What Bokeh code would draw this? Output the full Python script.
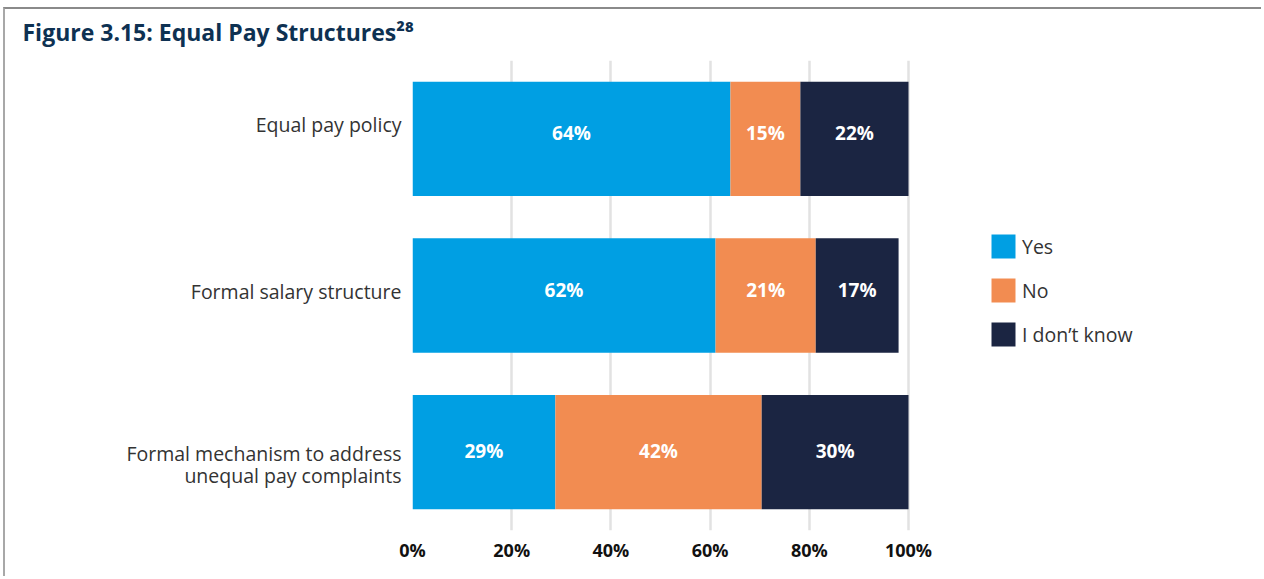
from bokeh.plotting import figure
from bokeh.models import (ColumnDataSource, Range1d, FixedTicker, Title,
                          Legend, LegendItem, PrintfTickFormatter)
from bokeh.embed import file_html
from bokeh.resources import INLINE
from bokeh.core.properties import value

# ---- data ----
categories = ["Equal pay policy", "Formal salary structure",
              "Formal mechanism to address\nunequal pay complaints"]
yes = [64.1, 61.1, 28.8]
no = [14.1, 20.2, 41.6]
dont_know = [21.8, 16.7, 29.6]
yes_labels = ["64%", "62%", "29%"]
no_labels = ["15%", "21%", "42%"]
dk_labels = ["22%", "17%", "30%"]
series = ["Yes", "No", "I don\u2019t know"]
colors = ["#009FE3", "#F28C51", "#1B2542"]
ticks = [0, 20, 40, 60, 80, 100]
title_text = "Figure 3.15: Equal Pay Structures\u00b2\u2078"

# ---- styling ----
FONT = "Open Sans"
W, H = 1258, 569
MB_LEFT, MB_TOP, MB_BOTTOM = 407, 51, 48
PX_PER_PCT = 4.96
frame_h = H - MB_TOP - MB_BOTTOM
n = len(categories)
unit_px = frame_h / n
label_shift_px = [14, 4, -12]   # category label nudges (px, up)
value_label_dy = [-6, -6, -1]   # value label nudges (px, down)

ypos = [n - 1 - i for i in range(n)]
tick_y = [yp + s / unit_px for yp, s in zip(ypos, label_shift_px)]

src = ColumnDataSource(dict(
    y=ypos, yes=yes, no=no, dk=dont_know,
    yes_mid=[a / 2 for a in yes],
    no_mid=[a + b / 2 for a, b in zip(yes, no)],
    dk_mid=[a + b + c / 2 for a, b, c in zip(yes, no, dont_know)],
    yes_lab=yes_labels, no_lab=no_labels, dk_lab=dk_labels,
    dy=value_label_dy,
))

frame_w = W - MB_LEFT
p = figure(width=W, height=H, output_backend="svg", toolbar_location=None,
           y_range=Range1d(-0.5, n - 0.5),
           x_range=Range1d(0, frame_w / PX_PER_PCT),
           min_border_left=MB_LEFT, min_border_right=0, min_border_top=MB_TOP,
           min_border_bottom=MB_BOTTOM)
p.styles = {"border-top": "2px solid #8a8a8a", "border-left": "2px solid #a8a8a8",
            "margin-top": "7px", "margin-left": "3px"}
p.outline_line_color = None
p.background_fill_color = "white"
p.border_fill_color = "white"

# spacer between title and frame
p.add_layout(Title(text=" ", text_font_size="1px", standoff=10), "above")
p.title = Title(text=title_text, align="left", offset=17 - MB_LEFT, standoff=0,
                text_font=FONT, text_font_style="bold", text_font_size="23px",
                text_color="#0E3152")

renderers = p.hbar_stack(["yes", "no", "dk"], y="y", height=0.73,
                         color=colors, line_color=None, source=src)

for xcol, lcol in [("yes_mid", "yes_lab"), ("no_mid", "no_lab"), ("dk_mid", "dk_lab")]:
    p.text(x=xcol, y="y", text=lcol, y_offset="dy", source=src, text_color="white",
           text_font=value(FONT), text_font_style="bold", text_font_size="19px",
           text_align="center", text_baseline="middle")

# axes
p.xaxis.ticker = FixedTicker(ticks=ticks)
p.xaxis.formatter = PrintfTickFormatter(format="%d%%")
p.xaxis.axis_line_color = None
p.xaxis.major_tick_line_color = None
p.xaxis.minor_tick_line_color = None
p.xaxis.major_label_text_font = FONT
p.xaxis.major_label_text_font_style = "bold"
p.xaxis.major_label_text_font_size = "18px"
p.xaxis.major_label_text_color = "#111111"
p.xaxis.major_label_standoff = 1

p.yaxis.ticker = FixedTicker(ticks=tick_y)
p.yaxis.major_label_overrides = {t: c for t, c in zip(tick_y, categories)}
p.yaxis.axis_line_color = None
p.yaxis.major_tick_line_color = None
p.yaxis.minor_tick_line_color = None
p.yaxis.major_label_text_font = FONT
p.yaxis.major_label_text_font_size = "19.5px"
p.yaxis.major_label_text_line_height = 0.82
p.yaxis.major_label_text_color = "#333333"
p.yaxis.major_label_standoff = 5

p.xgrid.grid_line_color = "#e2e2e2"
p.xgrid.grid_line_width = 2.5
p.ygrid.grid_line_color = None

legend = Legend(items=[LegendItem(label=s, renderers=[r]) for s, r in zip(series, renderers)],
                location=(576, 181), glyph_width=30, glyph_height=30,
                label_standoff=4, spacing=14, padding=0, margin=0,
                border_line_color=None, background_fill_alpha=0,
                label_text_font=FONT, label_text_font_size="19.5px",
                label_text_color="#333333")
p.add_layout(legend, "center")

open("out.html", "w").write(file_html(p, INLINE))
